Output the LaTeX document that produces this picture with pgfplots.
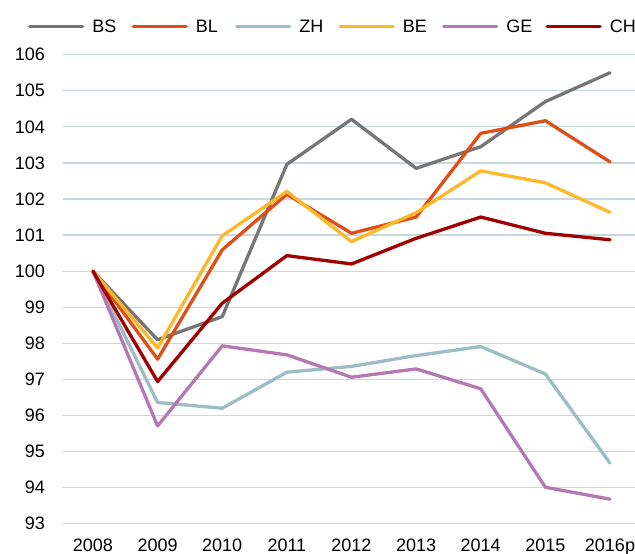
\documentclass[border=0pt]{standalone}
\usepackage{pgfplots}
\pgfplotsset{compat=1.18}
\usepackage{fontspec}
\setmainfont{Liberation Sans}
\definecolor{cBS}{HTML}{767676}
\definecolor{cBL}{HTML}{E04E17}
\definecolor{cZH}{HTML}{9DBDC6}
\definecolor{cBE}{HTML}{FCB82A}
\definecolor{cGE}{HTML}{B478B2}
\definecolor{cCH}{HTML}{A00000}
\definecolor{cGrid}{HTML}{C8D8DF}
\begin{document}
\begin{tikzpicture}
\begin{axis}[
  at={(0,0)}, anchor=south west,
  scale only axis,
  width=572.6bp, height=469bp,
  xmin=-0.47, xmax=8.39,
  ymin=93, ymax=106,
  axis line style={draw=none},
  ytick={93,94,...,106},
  xtick={0,1,...,8},
  xticklabels={2008,2009,2010,2011,2012,2013,2014,2015,2016p},
  ymajorgrids=true,
  major grid style={draw=cGrid, line width=1.2bp},
  major tick length=0pt,
  /pgf/number format/assume math mode=true,
  ticklabel style={font=\fontsize{18bp}{21bp}\selectfont, text=black},
  xticklabel style={anchor=base, inner sep=0pt, yshift=-27.8bp},
  yticklabel style={anchor=east, inner sep=0pt, xshift=-17.6bp},
  every axis plot/.append style={line width=3.3bp, line join=round, line cap=round},
  legend columns=6,
  legend cell align=left,
  legend image code/.code={\draw[#1] (0bp,0bp) -- (53bp,0bp);},
  legend style={draw=none, fill=none, inner sep=0pt, outer sep=0pt,
    at={(axis description cs:0,1)}, anchor=west, xshift=-34.6bp, yshift=28bp,
    font=\fontsize{18bp}{21bp}\selectfont,
    nodes={inner sep=0pt},
    /tikz/every odd column/.append style={column sep=8bp},
    /tikz/every even column/.append style={column sep=9.2bp}},
]
\addplot[cBS] coordinates {(0,100) (1,98.10) (2,98.74) (3,102.96) (4,104.21) (5,102.85) (6,103.45) (7,104.70) (8,105.50)};
\addlegendentry{\makebox[30bp][l]{BS}}
\addplot[cBL] coordinates {(0,100) (1,97.56) (2,100.59) (3,102.13) (4,101.05) (5,101.50) (6,103.82) (7,104.17) (8,103.03)};
\addlegendentry{\makebox[30bp][l]{BL}}
\addplot[cZH] coordinates {(0,100) (1,96.36) (2,96.20) (3,97.20) (4,97.36) (5,97.66) (6,97.91) (7,97.15) (8,94.68)};
\addlegendentry{\makebox[30bp][l]{ZH}}
\addplot[cBE] coordinates {(0,100) (1,97.87) (2,100.98) (3,102.21) (4,100.82) (5,101.62) (6,102.78) (7,102.45) (8,101.63)};
\addlegendentry{\makebox[30bp][l]{BE}}
\addplot[cGE] coordinates {(0,100) (1,95.71) (2,97.93) (3,97.68) (4,97.06) (5,97.29) (6,96.74) (7,94.01) (8,93.68)};
\addlegendentry{\makebox[30bp][l]{GE}}
\addplot[cCH] coordinates {(0,100) (1,96.94) (2,99.11) (3,100.43) (4,100.20) (5,100.91) (6,101.50) (7,101.05) (8,100.87)};
\addlegendentry{\makebox[30bp][l]{CH}}
\end{axis}
\pgfresetboundingbox
\path[use as bounding box] (-62.6bp,-30.3bp) rectangle (572.4bp,523.7bp);
\end{tikzpicture}
\end{document}
